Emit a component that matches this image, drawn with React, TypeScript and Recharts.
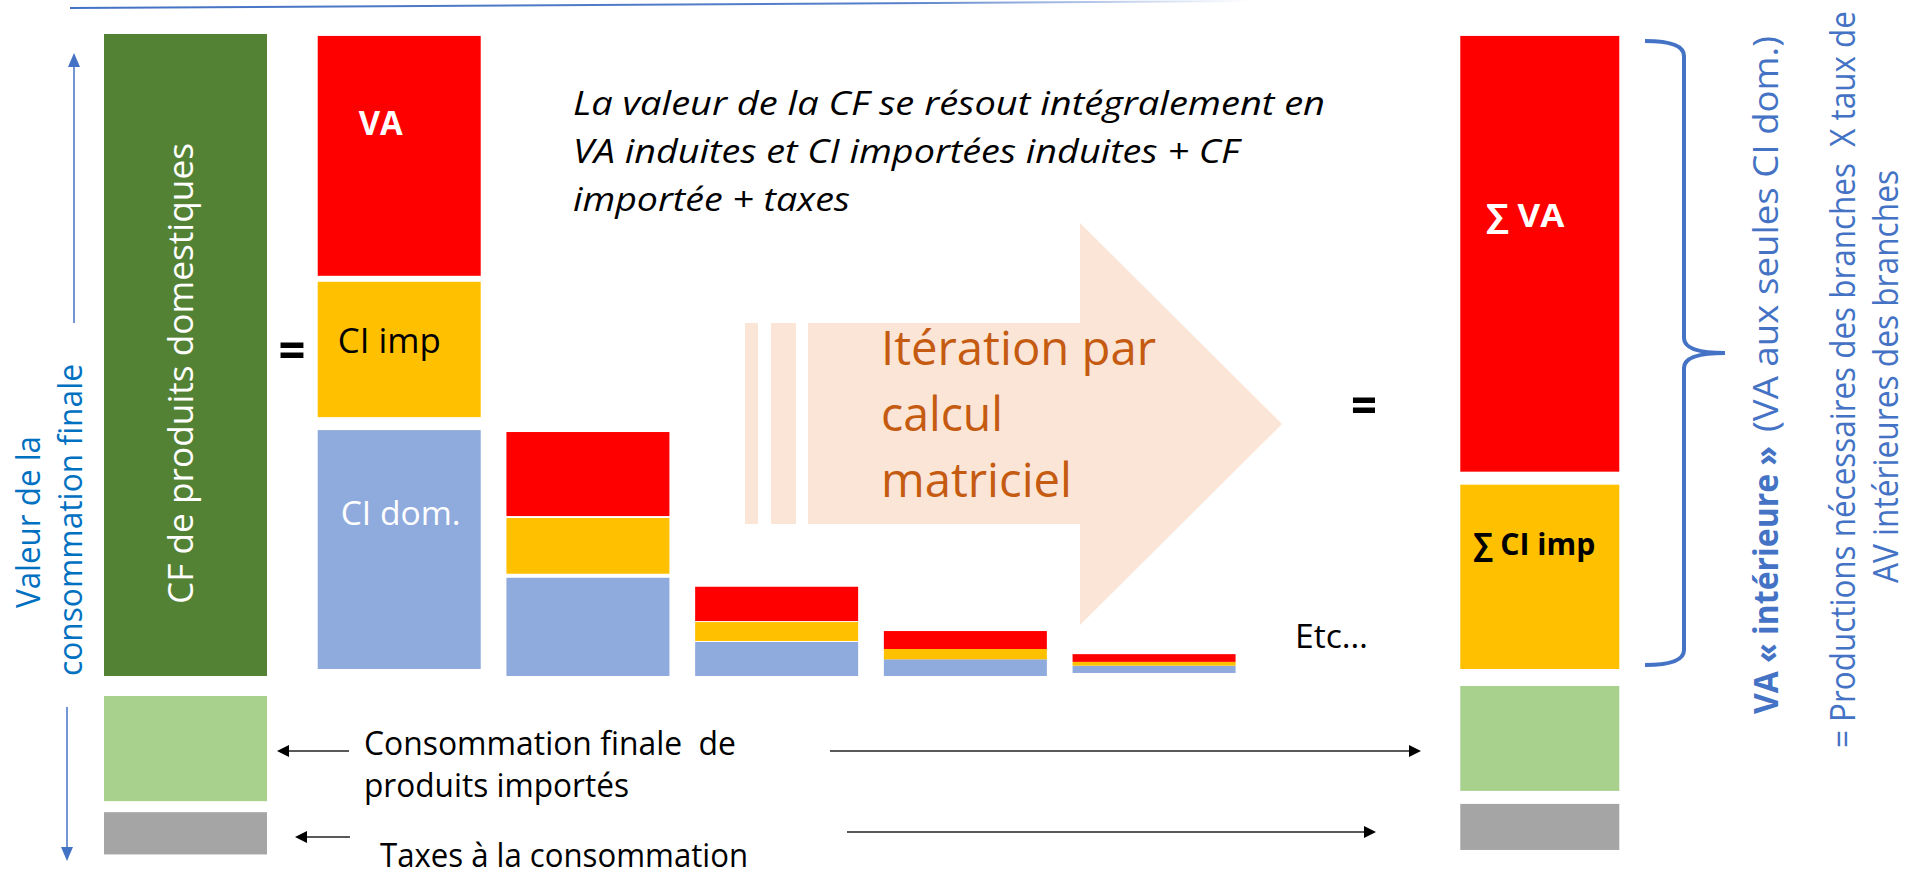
import { ComposedChart, Bar, XAxis, YAxis, ReferenceLine, Customized } from 'recharts';

// colonnes : CF domestique, itérations successives, total
const rows = ['CF domestique', 'Itération 1', 'Itération 2', 'Itération 3', 'Itération 4', 'Itération 5', 'Total'];

// hauteurs en % de la CF de produits domestiques
const cfDomestic = 100;
const vaInduced = [38.3, 13.4, 5.5, 2.8, 1.2];
const ciImported = [23.1, 9.3, 3.1, 1.6, 0.6];
const ciDomestic = [38.3, 15.3, 5.3, 2.6, 1.6];
const sumVA = 69.9;
const sumCIImp = 29.8;
const cfImported = [19.5, 17.9]; // gauche, droite
const consTaxes = [8.3, 9.2]; // gauche, droite

const chartData = rows.map((name, i) => {
  const it = i - 1;
  const isIter = i >= 1 && i <= 5;
  return {
    name,
    cfDom: i === 0 ? cfDomestic : null,
    ciDom: isIter ? ciDomestic[it] : null,
    ciImp: isIter ? ciImported[it] : null,
    va: isIter ? vaInduced[it] : null,
    sumCIImp: i === 6 ? sumCIImp : null,
    sumVA: i === 6 ? sumVA : null,
    impL: i === 0 ? -cfImported[0] : null,
    taxL: i === 0 ? -consTaxes[0] : null,
    impR: i === 6 ? -cfImported[1] : null,
    taxR: i === 6 ? -consTaxes[1] : null,
  };
});

const FONT = "'Open Sans', 'Noto Sans', 'DejaVu Sans', sans-serif";
const BLUE = '#4472c4';
const LEFT_BLUE = '#0070c0';

// white gaps between stacked blocks (px), per column
const GAPS: Record<string, number[]> = {
  ciDom: [0, 7, 0, 0, 0, 3, 0],
  ciImp: [0, 13, 4, 1, 0, 0, 0],
  va: [0, 6, 2, 1, 0, 0, 0],
  sumCIImp: [0, 0, 0, 0, 0, 0, 7],
  sumVA: [0, 0, 0, 0, 0, 0, 13],
  impL: [20, 0, 0, 0, 0, 0, 0],
  taxL: [11, 0, 0, 0, 0, 0, 0],
  impR: [0, 0, 0, 0, 0, 0, 10],
  taxR: [0, 0, 0, 0, 0, 0, 13],
};

function HText({ x, y, len, size, fill = '#000', weight = 400, italic = false, anchor = 'start', children }: any) {
  return (
    <text
      x={x}
      y={y}
      fontSize={size}
      fill={fill}
      fontWeight={weight}
      fontStyle={italic ? 'italic' : 'normal'}
      fontFamily={FONT}
      textAnchor={anchor}
      textLength={len}
      lengthAdjust="spacingAndGlyphs"
    >
      {children}
    </text>
  );
}

// text read from bottom to top, (x, y) = start of the baseline
function VText({ x, y, len, size, fill = '#000', weight = 400, children }: any) {
  return (
    <text
      transform={`translate(${x} ${y}) rotate(-90)`}
      fontSize={size}
      fill={fill}
      fontWeight={weight}
      fontFamily={FONT}
      textLength={len}
      lengthAdjust="spacingAndGlyphs"
    >
      {children}
    </text>
  );
}

type BlockLabel = { row: number; dx: number; dy: number; draw: (x: number, y: number) => any };

// block with a white gap on the side facing zero, and an optional label
// placed from the block's top-left corner
function gapped(key: string, side: 'bottom' | 'top', label?: BlockLabel) {
  const gaps = GAPS[key] || [];
  return (props: any) => {
    const { x, y, width, height, fill, index } = props;
    if (x == null || y == null || !height) return <g />;
    const g = gaps[index] || 0;
    const top = Math.min(y, y + height);
    const h = Math.abs(height) - g;
    const rectTop = side === 'top' ? top + g : top;
    return (
      <g>
        {h > 0 && <rect x={x} y={rectTop} width={width} height={h} fill={fill} />}
        {label && label.row === index && label.draw(x + label.dx, top + label.dy)}
      </g>
    );
  };
}

function Arrow({ x1, x2, y, color = '#595959', head = '#000' }: any) {
  const dir = x2 > x1 ? 1 : -1;
  const base = x2 - dir * 12;
  return (
    <g>
      <line x1={x1} y1={y} x2={base} y2={y} stroke={color} strokeWidth={2} />
      <polygon points={`${x2},${y} ${base},${y - 6} ${base},${y + 6}`} fill={head} />
    </g>
  );
}

function Background() {
  return (
    <g>
      <defs>
        <linearGradient id="topline" x1="0" x2="1" y1="0" y2="0">
          <stop offset="0" stopColor={BLUE} stopOpacity={1} />
          <stop offset="0.7" stopColor={BLUE} stopOpacity={0.9} />
          <stop offset="1" stopColor={BLUE} stopOpacity={0} />
        </linearGradient>
      </defs>
      <line x1={70} y1={8} x2={1250} y2={1} stroke="url(#topline)" strokeWidth={2} />
      {/* flèche d'itération */}
      <rect x={745} y={323} width={13} height={201} fill="#fbe5d6" />
      <rect x={771} y={323} width={25} height={201} fill="#fbe5d6" />
      <polygon points="808,323 1080,323 1080,223 1282,424 1080,625 1080,524 808,524" fill="#fbe5d6" />
    </g>
  );
}

function Annotations() {
  return (
    <g>
      {/* axe vertical gauche */}
      <line x1={74} y1={323} x2={74} y2={64} stroke={BLUE} strokeWidth={1.5} />
      <polygon points="74,53 68,67 80,67" fill={BLUE} />
      <line x1={67} y1={707} x2={67} y2={850} stroke={BLUE} strokeWidth={1.5} />
      <polygon points="67,861 61,847 73,847" fill={BLUE} />
      <VText x={40} y={608} len={172} size={32} fill={LEFT_BLUE}>Valeur de la</VText>
      <VText x={82} y={676} len={312} size={32} fill={LEFT_BLUE}>consommation finale</VText>

      <HText x={292} y={369} len={27} size={52} weight={700} anchor="middle">=</HText>
      <HText x={1364} y={424} len={26} size={52} weight={700} anchor="middle">=</HText>
      <HText x={1295} y={648} len={73} size={32}>Etc…</HText>

      {/* commentaire */}
      <HText x={573} y={115} len={752} size={32} italic>La valeur de la CF se résout intégralement en</HText>
      <HText x={573} y={163} len={666} size={32} italic>VA induites et CI importées induites + CF</HText>
      <HText x={573} y={211} len={277} size={32} italic>importée + taxes</HText>

      <HText x={881} y={365} len={275} size={48} fill="#c55a11">Itération par</HText>
      <HText x={881} y={431} len={122} size={48} fill="#c55a11">calcul</HText>
      <HText x={881} y={497} len={191} size={48} fill="#c55a11">matriciel</HText>

      {/* importations et taxes */}
      <HText x={364} y={755} len={372} size={33}>Consommation finale{'\u00a0'} de</HText>
      <HText x={364} y={797} len={265} size={33}>produits importés</HText>
      <HText x={380} y={867} len={368} size={32}>Taxes à la consommation</HText>
      <Arrow x1={349} x2={277} y={751} />
      <Arrow x1={350} x2={295} y={837} />
      <Arrow x1={830} x2={1421} y={751} />
      <Arrow x1={847} x2={1376} y={832} />

      {/* accolade et textes de droite */}
      <path
        d="M1645,41 Q1684,41 1684,56 L1684,338 Q1684,353 1725,353 Q1684,353 1684,368 L1684,650 Q1684,665 1645,665"
        fill="none"
        stroke={BLUE}
        strokeWidth={4}
      />
      <VText x={1778} y={714} len={268} size={34} weight={700} fill={BLUE}>VA « intérieure »</VText>
      <VText x={1778} y={432} len={396} size={34} fill={BLUE}>(VA aux seules CI dom.)</VText>
      <VText x={1855} y={748} len={737} size={34} fill={BLUE}>= Productions nécessaires des branches{'\u00a0'} X taux de</VText>
      <VText x={1898} y={583} len={413} size={34} fill={BLUE}>AV intérieures des branches</VText>
    </g>
  );
}

export default function App() {
  return (
    <div style={{ position: 'absolute', left: 0, top: 0, width: 1909, height: 875, background: '#fff' }}>
      <ComposedChart
        width={1909}
        height={875}
        data={chartData}
        stackOffset="sign"
        margin={{ top: 34, right: 0, bottom: 0, left: 0 }}
      >
        <Customized component={<Background />} />
        <XAxis xAxisId="cf" dataKey="name" hide padding={{ left: 91, right: 497 }} />
        <XAxis xAxisId="iter" dataKey="name" hide padding={{ left: 116, right: 472 }} />
        <XAxis xAxisId="total" dataKey="name" hide padding={{ left: 313, right: 275 }} />
        <XAxis xAxisId="frame" type="number" domain={[0, 1909]} hide allowDataOverflow />
        <YAxis hide type="number" domain={[-31, 100]} allowDataOverflow />

        <Bar
          xAxisId="cf"
          dataKey="cfDom"
          stackId="cf"
          fill="#548235"
          barSize={163}
          isAnimationActive={false}
          shape={gapped('cfDom', 'bottom', {
            row: 0,
            dx: 89,
            dy: 570,
            draw: (x, y) => <VText x={x} y={y} len={461} size={34} fill="#fff">CF de produits domestiques</VText>,
          })}
        />
        <Bar xAxisId="cf" dataKey="impL" stackId="cf" fill="#a9d18e" barSize={163} isAnimationActive={false} shape={gapped('impL', 'top')} />
        <Bar xAxisId="cf" dataKey="taxL" stackId="cf" fill="#a5a5a5" barSize={163} isAnimationActive={false} shape={gapped('taxL', 'top')} />

        <Bar
          xAxisId="iter"
          dataKey="ciDom"
          stackId="it"
          fill="#8faadc"
          barSize={163}
          isAnimationActive={false}
          shape={gapped('ciDom', 'bottom', {
            row: 1,
            dx: 23,
            dy: 95,
            draw: (x, y) => <HText x={x} y={y} len={120} size={32} fill="#fff">CI dom.</HText>,
          })}
        />
        <Bar
          xAxisId="iter"
          dataKey="ciImp"
          stackId="it"
          fill="#ffc000"
          barSize={163}
          isAnimationActive={false}
          shape={gapped('ciImp', 'bottom', {
            row: 1,
            dx: 20,
            dy: 71,
            draw: (x, y) => <HText x={x} y={y} len={103} size={34}>CI imp</HText>,
          })}
        />
        <Bar
          xAxisId="iter"
          dataKey="va"
          stackId="it"
          fill="#ff0000"
          barSize={163}
          isAnimationActive={false}
          shape={gapped('va', 'bottom', {
            row: 1,
            dx: 63,
            dy: 99,
            draw: (x, y) => <HText x={x} y={y} len={44} size={34} weight={700} fill="#fff" anchor="middle">VA</HText>,
          })}
        />

        <Bar
          xAxisId="total"
          dataKey="sumCIImp"
          stackId="tot"
          fill="#ffc000"
          barSize={159}
          isAnimationActive={false}
          shape={gapped('sumCIImp', 'bottom', {
            row: 6,
            dx: 13,
            dy: 70,
            draw: (x, y) => <HText x={x} y={y} len={122} size={31} weight={700}>∑ CI imp</HText>,
          })}
        />
        <Bar
          xAxisId="total"
          dataKey="sumVA"
          stackId="tot"
          fill="#ff0000"
          barSize={159}
          isAnimationActive={false}
          shape={gapped('sumVA', 'bottom', {
            row: 6,
            dx: 26,
            dy: 191,
            draw: (x, y) => <HText x={x} y={y} len={78} size={32} weight={700} fill="#fff">∑ VA</HText>,
          })}
        />
        <Bar xAxisId="total" dataKey="impR" stackId="tot" fill="#a9d18e" barSize={166} isAnimationActive={false} shape={gapped('impR', 'top')} />
        <Bar xAxisId="total" dataKey="taxR" stackId="tot" fill="#a5a5a5" barSize={166} isAnimationActive={false} shape={gapped('taxR', 'top')} />

        <ReferenceLine
          xAxisId="frame"
          segment={[{ x: 78, y: 100 }, { x: 1657, y: 100 }]}
          stroke="#000"
          strokeWidth={1.5}
          strokeDasharray="10 5"
        />
        <ReferenceLine
          xAxisId="frame"
          segment={[{ x: 75, y: 0 }, { x: 1645, y: 0 }]}
          stroke="#000"
          strokeWidth={1.5}
          strokeDasharray="10 5"
        />
        <Customized component={<Annotations />} />
      </ComposedChart>
    </div>
  );
}
